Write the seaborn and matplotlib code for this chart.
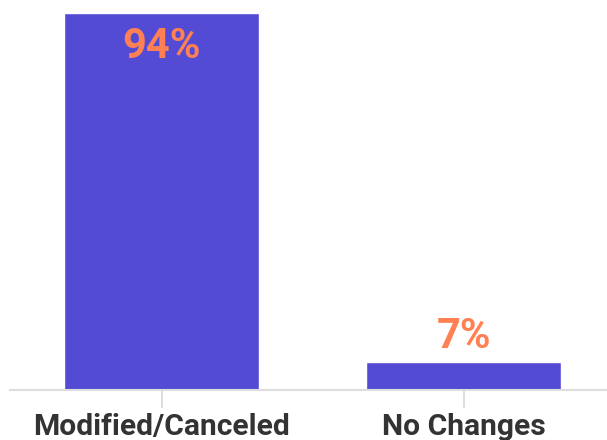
import matplotlib
matplotlib.use("Agg")
import matplotlib.pyplot as plt
import seaborn as sns
import pandas as pd

categories = ["Modified/Canceled", "No Changes"]
values = [94, 7]
labels = ["94%", "7%"]

BAR = "#544BD4"
LABEL = "#FF8153"
TEXT = "#333333"
GRID = "#DDDDDD"

sns.set_style("white")
plt.rcParams["font.family"] = ["Roboto", "DejaVu Sans"]

df = pd.DataFrame({"cat": categories, "val": values})

fig = plt.figure(figsize=(6.07, 4.40), dpi=100)
ax = fig.add_axes([10 / 607, 50 / 440, 597 / 607, 377 / 440])
sns.barplot(data=df, x="cat", y="val", color=BAR, saturation=1, width=0.645, ax=ax)

ax.set_xlim(-0.5017, 1.475)
ax.set_ylim(0, 94)
ax.set_xlabel("")
ax.set_ylabel("")
ax.set_yticks([])
for s in ["top", "right", "left"]:
    ax.spines[s].set_visible(False)
ax.spines["bottom"].set_color(GRID)
ax.spines["bottom"].set_linewidth(1.5)
ax.tick_params(axis="x", length=13, width=1.4, color=GRID, pad=3.5,
               labelsize=21.6, labelcolor=TEXT, bottom=True)
for t in ax.get_xticklabels():
    t.set_fontweight("bold")

# value labels
ax.annotate(labels[0], xy=(0, values[0]), xytext=(0, -32.4), textcoords="offset points",
            ha="center", va="baseline", fontsize=30, fontweight="bold", color=LABEL)
ax.annotate(labels[1], xy=(1, values[1]), xytext=(0, 9.9), textcoords="offset points",
            ha="center", va="baseline", fontsize=30, fontweight="bold", color=LABEL)

fig.savefig("out.png", dpi=100)
